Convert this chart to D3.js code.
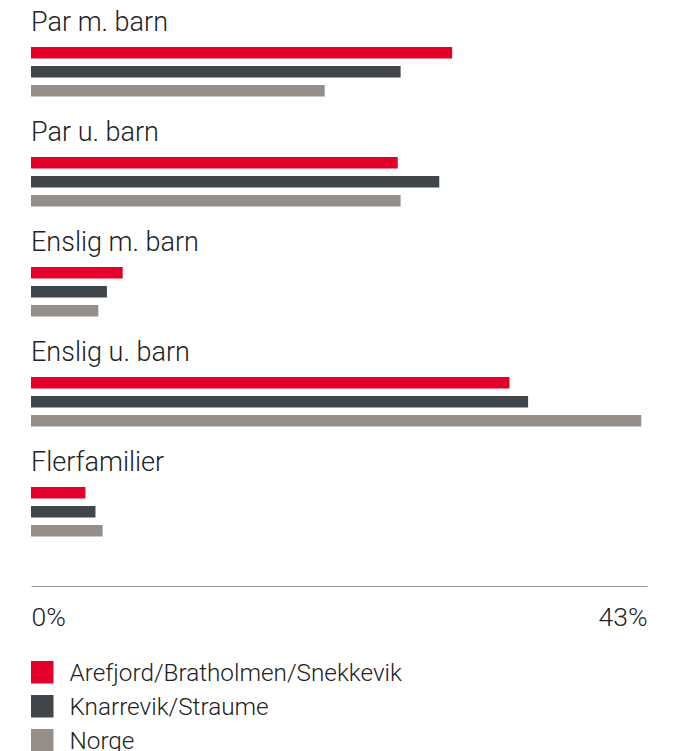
<!DOCTYPE html>
<html>
<head>
<meta charset="utf-8">
<script src="https://cdn.jsdelivr.net/npm/d3@7"></script>
<style>
    body { margin: 0; background: #fff; }
    svg { display: block; font-family: Roboto, sans-serif; font-weight: 300; }
</style>
</head>
<body>
<svg width="677" height="751"></svg>
<script>
const CATEGORIES = ['Par m. barn', 'Par u. barn', 'Enslig m. barn', 'Enslig u. barn', 'Flerfamilier'];
const SERIES = ['Arefjord/Bratholmen/Snekkevik', 'Knarrevik/Straume', 'Norge'];
const AREFJORD = [29.4, 25.6, 6.4, 33.4, 3.8];
const KNARREVIK = [25.8, 28.5, 5.3, 34.7, 4.5];
const NORGE = [20.5, 25.8, 4.7, 42.6, 5.0];
const TICKS = [0, 43];
const COLORS = ['#e3002b', '#40464a', '#968f89'];

const values = [AREFJORD, KNARREVIK, NORGE];
const svg = d3.select('svg');

const x = d3.scaleLinear()
    .domain([0, 43])
    .range([31, 647]);

const groupY = d3.scaleBand()
    .domain(CATEGORIES)
    .range([0, 550]);

const barY = d3.scaleBand()
    .domain(SERIES)
    .range([47, 96.5])
    .paddingInner(0.395);

const color = d3.scaleOrdinal()
    .domain(SERIES)
    .range(COLORS);

const groups = svg.append('g')
    .selectAll('g')
    .data(CATEGORIES)
    .enter()
    .append('g')
    .attr('transform', d => 'translate(0,' + groupY(d) + ')');

groups.append('text')
    .text(d => d)
    .attr('x', 31)
    .attr('y', 31)
    .style('font-size', '27px')
    .attr('fill', '#222');

groups.selectAll('rect')
    .data((d, i) => SERIES.map((s, j) => ({ s, v: values[j][i] })))
    .enter()
    .append('rect')
    .attr('x', x(0))
    .attr('y', d => barY(d.s))
    .attr('width', d => x(d.v) - x(0))
    .attr('height', barY.bandwidth())
    .attr('fill', d => color(d.s));

const axis = d3.axisBottom(x)
    .tickValues(TICKS)
    .tickSize(0)
    .tickPadding(21.5)
    .tickFormat(d => d + '%');

const axisG = svg.append('g')
    .attr('transform', 'translate(0,586)')
    .call(axis);

axisG.select('.domain').attr('stroke', '#9a9a9a');
axisG.selectAll('text')
    .style('font-size', '26.5px')
    .style('font-family', 'Roboto, sans-serif')
    .attr('fill', '#222')
    .attr('text-anchor', (d, i) => i === 0 ? 'start' : 'end');

const legend = svg.append('g')
    .selectAll('g')
    .data(SERIES)
    .enter()
    .append('g')
    .attr('transform', (d, i) => 'translate(31,' + (661 + 34 * i) + ')');

legend.append('rect')
    .attr('width', 22.5)
    .attr('height', 22.5)
    .attr('fill', d => color(d));

legend.append('text')
    .text(d => d)
    .attr('x', 38.5)
    .attr('y', 19.5)
    .style('font-size', '24.3px')
    .attr('fill', '#222');
</script>
</body>
</html>
